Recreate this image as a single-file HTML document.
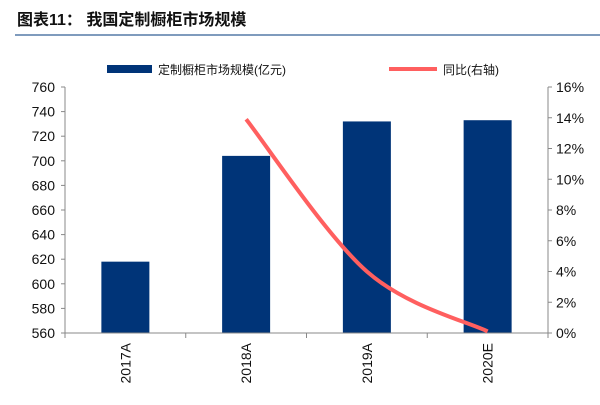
<!DOCTYPE html>
<html><head><meta charset="utf-8"><style>
body{margin:0;background:#fff;}
svg text{font-family:"Liberation Sans","Noto Sans CJK SC",sans-serif;}
</style></head><body>
<svg width="600" height="400" xmlns="http://www.w3.org/2000/svg">
<text x="17" y="25" font-size="16" font-weight="bold" fill="#111">图表11：   我国定制橱柜市场规模</text>
<line x1="15" y1="35" x2="600" y2="35" stroke="#7f9bbd" stroke-width="2"/>
<g>
<rect x="107" y="65" width="45" height="8" fill="#003478"/>
<text x="158" y="74" font-size="12" fill="#111">定制橱柜市场规模(亿元)</text>
<line x1="389" y1="69" x2="437" y2="69" stroke="#ff5f5f" stroke-width="4"/>
<text x="443" y="74" font-size="12" fill="#111">同比(右轴)</text>
</g>
<g id="plot"></g>
</svg>
<script>
const categories=["2017A","2018A","2019A","2020E"];
const marketSize=[618,704,732,733];
const yoy=[null,13.9,4.0,0.1];
const leftTicks=[560,580,600,620,640,660,680,700,720,740,760];
const rightTicks=[0,2,4,6,8,10,12,14,16];
const X0=65,X1=548,Y0=333,Y1=87;
const cw=(X1-X0)/categories.length;
const xC=i=>X0+cw*(i+0.5);
const yL=v=>Y0-(v-560)/(760-560)*(Y0-Y1);
const yR=v=>Y0-v/16*(Y0-Y1);
const g=document.getElementById('plot');
const NS="http://www.w3.org/2000/svg";
function mk(t,a){const e=document.createElementNS(NS,t);for(const k in a)e.setAttribute(k,a[k]);g.appendChild(e);return e;}
marketSize.forEach((v,i)=>{const r=mk('rect',{x:xC(i)-24,y:yL(v),width:48,height:Y0-yL(v),fill:'#003478'});

});
let a=mk('line',{x1:X0,y1:Y1,x2:X0,y2:Y0,stroke:'#888'});


a=mk('line',{x1:X1,y1:Y1,x2:X1,y2:Y0,stroke:'#888'});


a=mk('line',{x1:X0,y1:Y0,x2:X1,y2:Y0,stroke:'#888'});


leftTicks.forEach(v=>{mk('line',{x1:X0-4,y1:yL(v),x2:X0,y2:yL(v),stroke:'#888'});
const t=mk('text',{x:X0-10,y:yL(v)+5,'font-size':14,'text-anchor':'end',fill:'#111'});t.textContent=v;

});
rightTicks.forEach(v=>{mk('line',{x1:X1,y1:yR(v),x2:X1+4,y2:yR(v),stroke:'#888'});
const t=mk('text',{x:X1+8,y:yR(v)+5,'font-size':14,fill:'#111'});t.textContent=v+'%';

});
for(let i=0;i<=categories.length;i++)mk('line',{x1:X0+cw*i,y1:Y0,x2:X0+cw*i,y2:Y0+5,stroke:'#888'});
categories.forEach((c,i)=>{const t=mk('text',{transform:`translate(${xC(i)+5},${Y0+10}) rotate(-90)`,'font-size':14,'text-anchor':'end',fill:'#111'});t.textContent=c;

});
const pts=[];yoy.forEach((v,i)=>{if(v!==null)pts.push([xC(i),yR(v)]);});
let d='M'+pts[0][0]+','+pts[0][1];
for(let i=0;i<pts.length-1;i++){const p0=pts[Math.max(i-1,0)],p1=pts[i],p2=pts[i+1],p3=pts[Math.min(i+2,pts.length-1)];
d+=` C${p1[0]+(p2[0]-p0[0])/6},${p1[1]+(p2[1]-p0[1])/6} ${p2[0]-(p3[0]-p1[0])/6},${p2[1]-(p3[1]-p1[1])/6} ${p2[0]},${p2[1]}`;}
const ln=mk('path',{d:d,fill:'none',stroke:'#ff5f5f','stroke-width':4});


</script>
</body></html>
